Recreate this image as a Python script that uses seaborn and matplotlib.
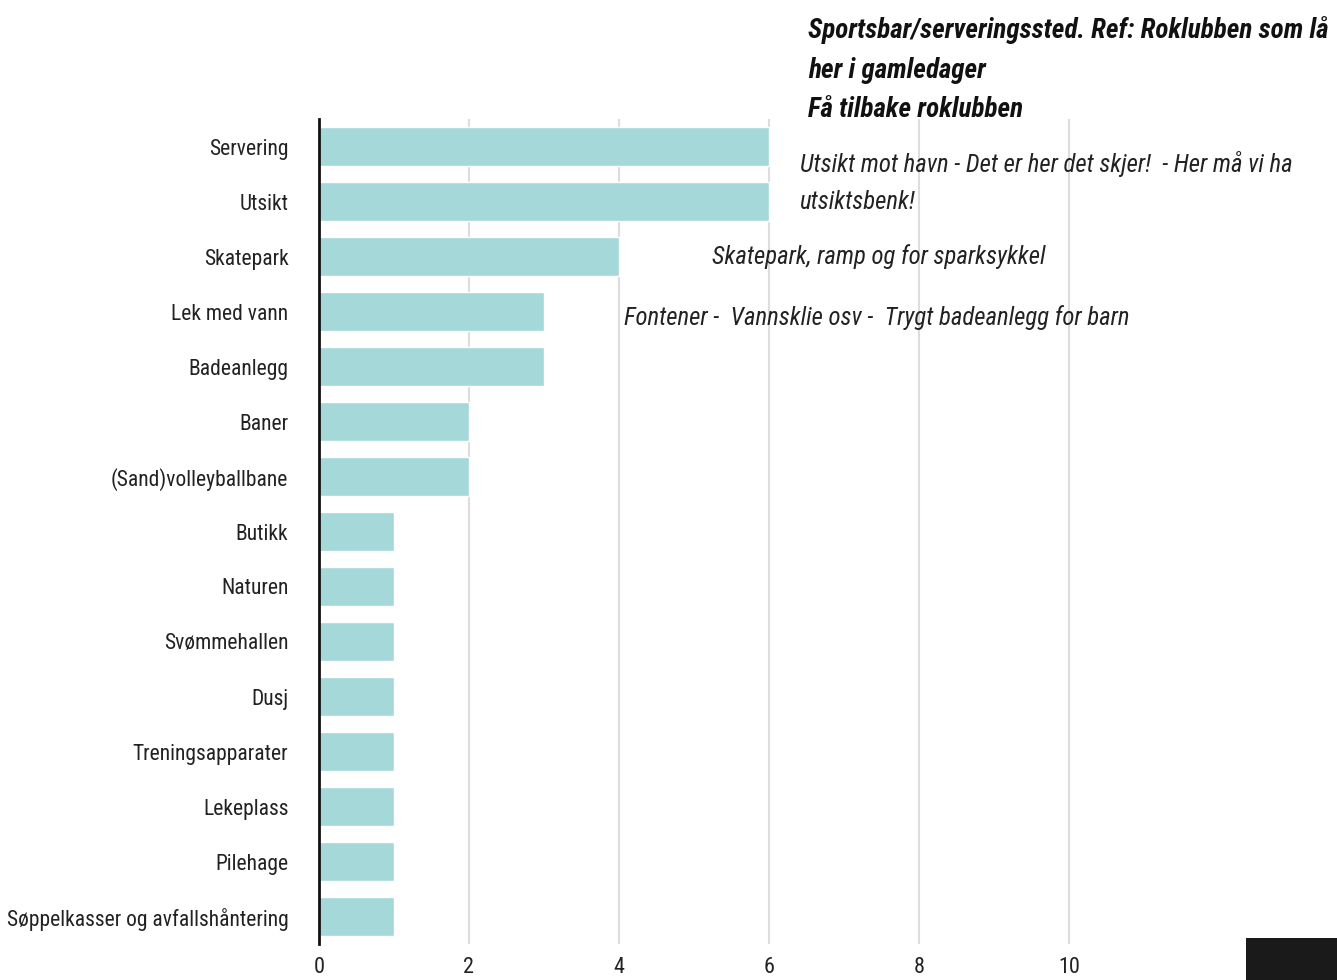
import seaborn as sns
import pandas as pd
import matplotlib.pyplot as plt
from matplotlib import font_manager
from matplotlib.patches import Rectangle

kategorier = ["Servering", "Utsikt", "Skatepark", "Lek med vann", "Badeanlegg",
              "Baner", "(Sand)volleyballbane", "Butikk", "Naturen", "Svømmehallen",
              "Dusj", "Treningsapparater", "Lekeplass", "Pilehage",
              "Søppelkasser og avfallshåntering"]
antall = [6, 6, 4, 3, 3, 2, 2, 1, 1, 1, 1, 1, 1, 1, 1]
x_ticks = [0, 2, 4, 6, 8, 10]

tittel = "Sportsbar/serveringssted. Ref: Roklubben som lå\nher i gamledager\nFå tilbake roklubben"
kommentarer = [
    "Utsikt mot havn - Det er her det skjer!  - Her må vi ha\nutsiktsbenk!",
    "Skatepark, ramp og for sparksykkel",
    "Fontener -  Vannsklie osv -  Trygt badeanlegg for barn",
]

sns.set_theme(style="white")
installed = {f.name for f in font_manager.fontManager.ttflist}
fam = "DejaVu Sans"
for cand in ["Roboto Condensed", "Liberation Sans Narrow", "Open Sans Condensed", "Noto Sans"]:
    if cand in installed:
        fam = cand
        break
plt.rcParams['font.family'] = [fam, 'DejaVu Sans']

df = pd.DataFrame({"Kategori": kategorier, "Antall": antall})

W, H = 1337, 980
fig = plt.figure(figsize=(W / 100, H / 100), dpi=100)
ax = fig.add_axes([319 / W, (980 - 944) / H, 12 * 75 / W, (944 - 119) / H])

sns.barplot(data=df, x="Antall", y="Kategori", color="#a5d8d8", width=0.71,
            saturation=1, ax=ax, zorder=2)
ax.set_xlim(0, 12)
ax.set_ylim(14.5, -0.5)
ax.set_xticks(x_ticks)
ax.set_xlabel("")
ax.set_ylabel("")
for v in x_ticks[1:]:
    ax.axvline(v, color="#dddddd", lw=1.5, zorder=1)
for s in ["top", "right", "bottom"]:
    ax.spines[s].set_visible(False)
ax.spines["left"].set_color("#111111")
ax.spines["left"].set_linewidth(2)
ax.spines["left"].set_zorder(3)
ax.tick_params(axis="y", length=0, pad=22, labelsize=15.5, labelcolor="#222222")
ax.tick_params(axis="x", length=0, pad=9, labelsize=16, labelcolor="#222222")

fig.text(808 / W, 1 - 16 / H, tittel, fontsize=19.5, fontweight="bold", style="italic",
         va="top", ha="left", color="#111111", linespacing=1.6)
fig.text(800 / W, 1 - 151 / H, kommentarer[0], fontsize=17.8, style="italic",
         va="top", ha="left", color="#222222", linespacing=1.68)
fig.text(712 / W, 1 - 257 / H, kommentarer[1], fontsize=17.8, style="italic",
         va="center", ha="left", color="#222222")
fig.text(624 / W, 1 - 318 / H, kommentarer[2], fontsize=17.8, style="italic",
         va="center", ha="left", color="#222222")

# logo-bit nederst i hjørnet
fig.patches.append(Rectangle((1246 / W, 0), 91 / W, 42 / H, transform=fig.transFigure,
                             facecolor="#1a1a1a", edgecolor="none"))

fig.savefig("out.png", dpi=100)
